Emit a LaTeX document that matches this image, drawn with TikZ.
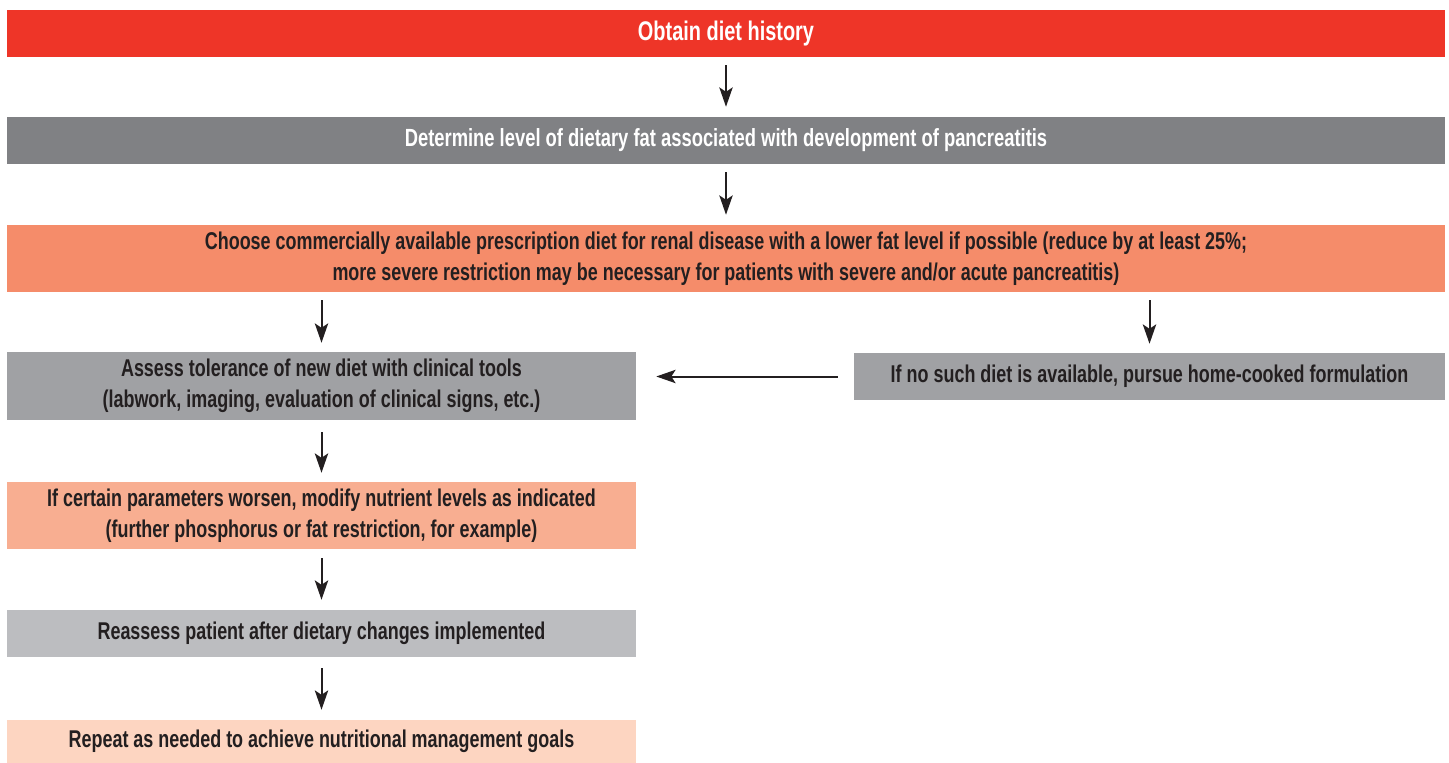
\documentclass[tikz,border=0pt]{standalone}
\usepackage{fontspec}
\setmainfont{Liberation Sans}[FakeStretch=0.74]
\usepackage{xcolor}
\usetikzlibrary{positioning,arrows.meta}
\definecolor{topred}{HTML}{EE3528}
\definecolor{darkgrey}{HTML}{808184}
\definecolor{salmon}{HTML}{F58C6A}
\definecolor{midgrey}{HTML}{A0A1A4}
\definecolor{lightsalmon}{HTML}{F8AE91}
\definecolor{lightgrey}{HTML}{BCBDC0}
\definecolor{palesalmon}{HTML}{FDD5C1}
\definecolor{inkblack}{HTML}{231F20}
\begin{document}
\begin{tikzpicture}[x=0.03cm, y=-0.03cm,
  box/.style={inner sep=0pt, align=center, text=inkblack,
              font=\fontsize{20.7}{26.5}\selectfont\bfseries},
  wide/.style={box, minimum width=43.14cm},
  narrow/.style={box, minimum width=18.87cm},
  arr/.style={-{Stealth[length=0.58cm, width=0.4cm, inset=0.13cm]}, line width=0.06cm, draw=inkblack}]
\useasboundingbox (0,0) rectangle (1449,763);
\node[wide, fill=topred, text=white, minimum height=1.41cm,
      font=\fontsize{23}{27}\selectfont\bfseries] (hist) at (726,33.5) {Obtain diet history};
\node[wide, fill=darkgrey, text=white, minimum height=1.41cm,
      font=\fontsize{21.2}{27}\selectfont\bfseries] (fat) at (726,140.5) {Determine level of dietary fat associated with development of pancreatitis};
\node[wide, fill=salmon, minimum height=2.01cm] (choose) at (726,258.5) {Choose commercially available prescription diet for renal disease with a lower fat level if possible (reduce by at least 25\%;\\ more severe restriction may be necessary for patients with severe and/or acute pancreatitis)};
\node[narrow, fill=midgrey, minimum height=2.04cm] (assess) at (321.5,386) {Assess tolerance of new diet with clinical tools\\ (labwork, imaging, evaluation of clinical signs, etc.)};
\node[box, fill=midgrey, minimum width=17.73cm, minimum height=1.41cm] (home) at (1149.5,376.5) {If no such diet is available, pursue home-cooked formulation};
\node[narrow, fill=lightsalmon, minimum height=2.01cm] (modify) at (321.5,515.5) {If certain parameters worsen, modify nutrient levels as indicated\\ (further phosphorus or fat restriction, for example)};
\node[narrow, fill=lightgrey, minimum height=1.41cm] (reassess) at (321.5,633.5) {Reassess patient after dietary changes implemented};
\node[narrow, fill=palesalmon, minimum height=1.29cm] (repeat) at (321.5,741.5) {Repeat as needed to achieve nutritional management goals};
\draw[arr, shorten <=0.24cm, shorten >=0.3cm] (hist) -- (fat);
\draw[arr, shorten <=0.24cm, shorten >=0.3cm] (fat) -- (choose);
\draw[arr, shorten <=0.24cm, shorten >=0.27cm] (choose.south -| assess.north) -- (assess.north);
\draw[arr, shorten <=0.24cm, shorten >=0.27cm] (choose.south -| home.north) -- (home.north);
\draw[arr, shorten <=0.48cm, shorten >=0.6cm] (home.west) -- (assess.east |- home.west);
\draw[arr, shorten <=0.36cm, shorten >=0.27cm] (assess) -- (modify);
\draw[arr, shorten <=0.27cm, shorten >=0.3cm] (modify) -- (reassess);
\draw[arr, shorten <=0.33cm, shorten >=0.3cm] (reassess) -- (repeat);
\end{tikzpicture}
\end{document}
